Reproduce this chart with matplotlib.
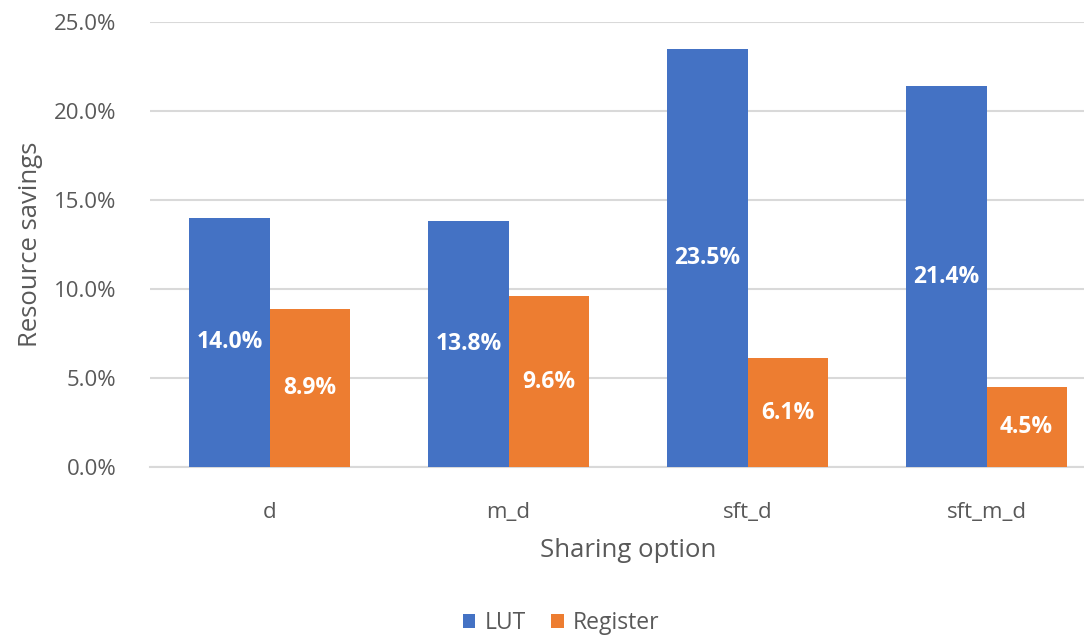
import matplotlib
matplotlib.use('Agg')
import matplotlib.pyplot as plt
import numpy as np
from matplotlib.ticker import PercentFormatter

categories = ['d', 'm_d', 'sft_d', 'sft_m_d']
lut = [14.0, 13.8, 23.5, 21.4]
register = [8.9, 9.6, 6.1, 4.5]
yticks = [0, 5, 10, 15, 20, 25]

plt.rcParams['font.family'] = ['Open Sans', 'DejaVu Sans']
text_color = '#595959'
grid_color = '#d9d9d9'

fig = plt.figure(figsize=(10.84, 6.38), dpi=100)
ax = fig.add_axes([150 / 1084, 1 - 467 / 638, 956 / 1084, 445 / 638])

x = np.arange(len(categories))
w = 0.335
b1 = ax.bar(x - w / 2, lut, w, color='#4472C4', label='LUT', zorder=3)
b2 = ax.bar(x + w / 2, register, w, color='#ED7D31', label='Register', zorder=3)

for bars, vals in [(b1, lut), (b2, register)]:
    for bar, v in zip(bars, vals):
        ax.text(bar.get_x() + bar.get_width() / 2, v / 2, f'{v:.1f}%',
                ha='center', va='center', color='white', fontsize=16.5,
                fontweight='bold', zorder=4)

ax.set_xlim(-0.5, 3.5)
ax.set_ylim(0, 25)
ax.set_yticks(yticks)
ax.yaxis.set_major_formatter(PercentFormatter(decimals=1))
ax.set_xticks(x)
ax.set_xticklabels(categories)
ax.tick_params(axis='both', length=0, labelsize=16, colors=text_color)
ax.tick_params(axis='x', pad=25)
ax.tick_params(axis='y', pad=24)
ax.grid(axis='y', color=grid_color, linewidth=1.5, zorder=0)
for s in ['top', 'right', 'left']:
    ax.spines[s].set_visible(False)
ax.spines['bottom'].set_color(grid_color)
ax.spines['bottom'].set_linewidth(1.5)

ax.set_xlabel('Sharing option', fontsize=18.5, color=text_color, labelpad=11)
ax.set_ylabel('Resource savings', fontsize=18.5, color=text_color, labelpad=8)

fig.legend(loc='center', bbox_to_anchor=(561 / 1084, 1 - 623 / 638), ncol=2,
           frameon=False, fontsize=16.5, handlelength=0.55, handleheight=0.55,
           handletextpad=0.4, columnspacing=1.1, labelcolor=text_color,
           borderpad=0.2)

fig.savefig('out.png', dpi=100)
